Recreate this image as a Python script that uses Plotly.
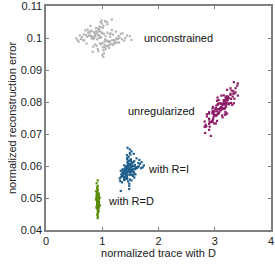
import plotly.graph_objects as go

# ---------------- data ----------------
unconstrained_x = [
    0.98, 1.12, 0.85, 1.04, 0.71, 1.23, 0.93, 1.01, 0.88, 1.15,
    1.07, 0.79, 0.96, 1.31, 0.62, 1.02, 0.90, 1.19, 0.83, 1.09,
    0.95, 1.26, 0.74, 1.05, 0.99, 0.87, 1.14, 0.68, 1.36, 0.92,
    1.03, 0.81, 1.21, 0.97, 1.10, 0.76, 1.00, 0.89, 1.28, 0.94,
    0.58, 1.17, 1.06, 0.84, 1.44, 0.91, 1.08, 0.73, 1.00, 1.24,
    0.86, 1.13, 0.95, 0.66, 1.33, 1.02, 0.78, 1.11, 0.97, 0.82,
    1.18, 0.93, 1.05, 0.70, 1.39, 0.88, 1.16, 1.01, 0.54, 1.22,
    0.96, 1.08, 0.80, 1.27, 0.99, 0.64, 1.12, 0.90, 1.04, 1.49,
    0.87, 1.20, 0.75, 1.03, 0.94, 1.30, 0.83, 1.09, 0.98, 0.60,
    1.14, 0.92, 1.25, 0.79, 1.06, 0.85, 1.35, 1.00, 0.72, 1.17,
    0.95, 1.10, 0.67, 1.02, 1.41, 0.89, 1.07, 0.77, 1.19, 0.99,
    0.84, 1.29, 0.93, 1.13, 0.56, 1.05, 0.97, 1.23, 0.81, 1.52,
]
unconstrained_y = [
    0.1003, 0.0987, 0.1018, 0.0979, 0.1010, 0.0994, 0.1029, 0.0971, 0.1006, 0.1014,
    0.0992, 0.1022, 0.0983, 0.1001, 0.0997, 0.1039, 0.0976, 0.1011, 0.0957, 0.1017,
    0.1007, 0.0986, 0.1027, 0.0996, 0.1046, 0.0980, 0.1004, 0.0993, 0.1015, 0.0966,
    0.1013, 0.0999, 0.0982, 0.1034, 0.0990, 0.1008, 0.0947, 0.1021, 0.0997, 0.1001,
    0.0989, 0.1025, 0.1006, 0.0973, 0.1008, 0.0996, 0.1050, 0.1004, 0.0985, 0.1020,
    0.1000, 0.0978, 0.1036, 0.0993, 0.1013, 0.0962, 0.1017, 0.0987, 0.1050, 0.1003,
    0.0994, 0.1010, 0.0972, 0.1024, 0.0992, 0.1015, 0.0982, 0.1032, 0.0999, 0.0986,
    0.1021, 0.0976, 0.1007, 0.0997, 0.1055, 0.1003, 0.0969, 0.1014, 0.0989, 0.1006,
    0.1011, 0.0993, 0.1018, 0.0952, 0.1028, 0.0986, 0.1001, 0.1043, 0.0980, 0.1008,
    0.0990, 0.1020, 0.0999, 0.1038, 0.0965, 0.1004, 0.0996, 0.1015, 0.0983, 0.1058,
    0.1024, 0.0975, 0.1011, 0.0941, 0.1000, 0.1031, 0.0992, 0.1007, 0.0979, 0.1017,
    0.0997, 0.1006, 0.0959, 0.1013, 0.0993, 0.1053, 0.1001, 0.0985, 0.1022, 0.0994,
]

unregularized_x = [
    3.16, 2.94, 3.21, 2.90, 3.34, 3.05, 3.20, 2.84, 3.12, 3.09,
    3.08, 3.03, 3.28, 3.17, 2.86, 3.21, 2.96, 3.32, 3.04, 3.08,
    3.10, 3.18, 2.90, 3.06, 3.11, 3.30, 3.02, 3.15, 2.96, 3.33,
    3.06, 2.97, 3.25, 3.02, 3.35, 2.90, 3.25, 3.03, 3.17, 2.91,
    3.04, 3.13, 3.37, 2.98, 3.13, 3.12, 2.85, 3.29, 3.07, 3.23,
    2.99, 3.12, 2.96, 3.41, 3.14, 2.86, 3.18, 3.15, 3.13, 3.01,
    3.16, 3.23, 2.96, 3.02, 3.29, 2.83, 3.09, 3.10, 3.33, 3.22,
    2.94, 3.19, 3.19, 3.08, 2.82, 3.22, 3.41, 2.95, 3.22, 3.01,
    3.00, 3.20, 3.05, 2.90, 3.11, 3.37, 2.96, 3.25, 2.90, 3.18,
    3.23, 2.97, 3.19, 3.04, 3.34, 3.05, 2.99, 3.16, 3.15, 2.97,
    3.21, 2.90, 3.35, 2.98, 3.23, 2.83, 3.18, 3.28, 3.05, 3.21,
    3.16, 2.91, 3.19, 3.11, 3.40, 2.82, 3.07, 3.31, 2.99, 3.28,
    2.93,
]
unregularized_y = [
    0.0806, 0.0738, 0.0818, 0.0768, 0.0796, 0.0792, 0.0785, 0.0729, 0.0784, 0.0778,
    0.0768, 0.0789, 0.0826, 0.0780, 0.0762, 0.0793, 0.0764, 0.0817, 0.0771, 0.0777,
    0.0776, 0.0780, 0.0732, 0.0794, 0.0795, 0.0836, 0.0733, 0.0792, 0.0769, 0.0834,
    0.0763, 0.0747, 0.0793, 0.0781, 0.0827, 0.0748, 0.0813, 0.0757, 0.0796, 0.0723,
    0.0804, 0.0758, 0.0843, 0.0753, 0.0782, 0.0795, 0.0724, 0.0797, 0.0765, 0.0807,
    0.0733, 0.0820, 0.0780, 0.0820, 0.0752, 0.0755, 0.0806, 0.0793, 0.0792, 0.0759,
    0.0799, 0.0817, 0.0741, 0.0759, 0.0810, 0.0703, 0.0779, 0.0780, 0.0826, 0.0805,
    0.0737, 0.0790, 0.0814, 0.0796, 0.0739, 0.0764, 0.0858, 0.0738, 0.0838, 0.0778,
    0.0771, 0.0798, 0.0814, 0.0713, 0.0784, 0.0830, 0.0739, 0.0796, 0.0745, 0.0798,
    0.0810, 0.0785, 0.0760, 0.0741, 0.0862, 0.0762, 0.0761, 0.0821, 0.0778, 0.0772,
    0.0813, 0.0764, 0.0810, 0.0767, 0.0815, 0.0723, 0.0761, 0.0843, 0.0778, 0.0798,
    0.0794, 0.0737, 0.0769, 0.0774, 0.0851, 0.0722, 0.0806, 0.0791, 0.0759, 0.0822,
    0.0694,
]

ri_x = [
    1.48, 1.42, 1.53, 1.39, 1.57, 1.45, 1.50, 1.35, 1.61, 1.47,
    1.44, 1.55, 1.40, 1.51, 1.37, 1.49, 1.58, 1.43, 1.66, 1.46,
    1.52, 1.38, 1.47, 1.60, 1.41, 1.54, 1.33, 1.49, 1.45, 1.70,
    1.43, 1.56, 1.48, 1.36, 1.51, 1.46, 1.63, 1.40, 1.53, 1.44,
    1.50, 1.31, 1.47, 1.59, 1.42, 1.55, 1.45, 1.38, 1.52, 1.74,
    1.46, 1.41, 1.57, 1.49, 1.34, 1.52, 1.44, 1.62, 1.48, 1.39,
    1.54, 1.45, 1.37, 1.50, 1.67, 1.43, 1.48, 1.56, 1.40, 1.51,
    1.47, 1.36, 1.58, 1.44, 1.52, 1.41, 1.49, 1.64, 1.46, 1.32,
    1.53, 1.45, 1.39, 1.60, 1.48, 1.43, 1.55, 1.50, 1.35, 1.47,
    1.42, 1.57, 1.46, 1.51, 1.38, 1.69, 1.44, 1.49, 1.54, 1.40,
    1.48, 1.33, 1.52, 1.45, 1.59, 1.43, 1.50, 1.37, 1.56, 1.46,
    1.41, 1.53, 1.47, 1.65, 1.44, 1.36, 1.51, 1.49, 1.72, 1.45,
    1.33,
]
ri_y = [
    0.0592, 0.0571, 0.0608, 0.0556, 0.0615, 0.0583, 0.0598, 0.0549, 0.0624, 0.0587,
    0.0563, 0.0611, 0.0578, 0.0595, 0.0568, 0.0641, 0.0603, 0.0580, 0.0619, 0.0552,
    0.0600, 0.0575, 0.0629, 0.0596, 0.0559, 0.0585, 0.0565, 0.0607, 0.0573, 0.0612,
    0.0594, 0.0581, 0.0545, 0.0589, 0.0621, 0.0601, 0.0597, 0.0566, 0.0588, 0.0634,
    0.0577, 0.0561, 0.0605, 0.0590, 0.0599, 0.0569, 0.0614, 0.0582, 0.0555, 0.0602,
    0.0586, 0.0593, 0.0576, 0.0652, 0.0574, 0.0613, 0.0560, 0.0594, 0.0581, 0.0602,
    0.0570, 0.0626, 0.0589, 0.0584, 0.0607, 0.0597, 0.0538, 0.0599, 0.0585, 0.0618,
    0.0604, 0.0579, 0.0591, 0.0567, 0.0646, 0.0588, 0.0572, 0.0609, 0.0595, 0.0553,
    0.0583, 0.0601, 0.0562, 0.0596, 0.0617, 0.0578, 0.0590, 0.0636, 0.0571, 0.0584,
    0.0598, 0.0564, 0.0606, 0.0587, 0.0580, 0.0593, 0.0622, 0.0558, 0.0600, 0.0576,
    0.0528, 0.0585, 0.0596, 0.0610, 0.0574, 0.0590, 0.0603, 0.0579, 0.0638, 0.0592,
    0.0586, 0.0573, 0.0616, 0.0599, 0.0581, 0.0568, 0.0605, 0.0589, 0.0596, 0.0657,
    0.0522,
]

rd_x = [
    0.92, 0.91, 0.93, 0.90, 0.94, 0.92, 0.91, 0.93, 0.89, 0.92,
    0.93, 0.92, 0.90, 0.94, 0.91, 0.92, 0.95, 0.91, 0.93, 0.92,
    0.91, 0.93, 0.92, 0.89, 0.92, 0.94, 0.91, 0.93, 0.92, 0.90,
    0.92, 0.91, 0.94, 0.92, 0.93, 0.90, 0.92, 0.91, 0.93, 0.96,
    0.92, 0.93, 0.91, 0.92, 0.90, 0.93, 0.92, 0.94, 0.91, 0.92,
    0.93, 0.91, 0.92, 0.95, 0.92, 0.91, 0.93, 0.92, 0.90, 0.92,
    0.91, 0.92, 0.93, 0.92, 0.94, 0.92, 0.91, 0.93, 0.92, 0.91,
    0.92, 0.94, 0.91, 0.93, 0.92, 0.90, 0.92, 0.93, 0.91, 0.92,
]
rd_y = [
    0.0491, 0.0478, 0.0503, 0.0469, 0.0512, 0.0486, 0.0497, 0.0459, 0.0521, 0.0483,
    0.0494, 0.0508, 0.0473, 0.0488, 0.0530, 0.0465, 0.0499, 0.0481, 0.0515, 0.0452,
    0.0489, 0.0506, 0.0476, 0.0495, 0.0538, 0.0484, 0.0501, 0.0462, 0.0492, 0.0511,
    0.0480, 0.0496, 0.0470, 0.0524, 0.0487, 0.0500, 0.0443, 0.0493, 0.0509, 0.0477,
    0.0498, 0.0468, 0.0517, 0.0485, 0.0546, 0.0490, 0.0474, 0.0504, 0.0482, 0.0555,
    0.0495, 0.0487, 0.0460, 0.0502, 0.0479, 0.0514, 0.0490, 0.0437, 0.0498, 0.0507,
    0.0485, 0.0527, 0.0471, 0.0493, 0.0481, 0.0510, 0.0496, 0.0456, 0.0488, 0.0533,
    0.0502, 0.0476, 0.0519, 0.0490, 0.0466, 0.0505, 0.0483, 0.0497, 0.0448, 0.0494,
]

series_names = ["unconstrained", "unregularized", "with R=I", "with R=D"]
series_colors = ["#b4b4b4", "#8c1a64", "#1f5f8c", "#5a8c0a"]
label_x = [1.71, 2.69, 1.78, 1.06]
label_y = [0.0999, 0.0772, 0.0591, 0.0491]
label_anchor = ["left", "right", "left", "left"]

x_ticks = [0, 1, 2, 3, 4]
y_ticks = [0.04, 0.05, 0.06, 0.07, 0.08, 0.09, 0.1, 0.11]
y_tick_text = ["0.04", "0.05", "0.06", "0.07", "0.08", "0.09", "0.1", "0.11"]

# ---------------- figure ----------------
xs = [unconstrained_x, unregularized_x, ri_x, rd_x]
ys = [unconstrained_y, unregularized_y, ri_y, rd_y]

fig = go.Figure()
for name, col, x, y in zip(series_names, series_colors, xs, ys):
    fig.add_trace(go.Scatter(
        x=x, y=y, mode="markers", name=name,
        marker=dict(color=col, size=2.2, symbol="square", line=dict(width=0)),
        showlegend=False, cliponaxis=True,
    ))

for name, lx, ly, anc in zip(series_names, label_x, label_y, label_anchor):
    fig.add_annotation(x=lx, y=ly, text=name, showarrow=False,
                       xanchor=anc, yanchor="middle",
                       font=dict(size=11, color="#111111"))

axis_common = dict(
    showline=True, linecolor="#808080", linewidth=1.5, mirror="ticks",
    ticks="inside", ticklen=3, tickcolor="#808080", tickwidth=1,
    showgrid=False, zeroline=False, automargin=False,
    ticklabeloverflow="allow",
    tickfont=dict(size=11, color="#222222"),
)

fig.update_xaxes(range=[0, 4.0001], tickvals=x_ticks,
                 title=dict(text="normalized trace with D", font=dict(size=11, color="#222222"), standoff=2),
                 **axis_common)
fig.update_yaxes(range=[0.04, 0.11001], tickvals=y_ticks, ticktext=y_tick_text,
                 title=dict(text="normalized reconstruction error", font=dict(size=11, color="#222222"), standoff=2),
                 **axis_common)

fig.update_layout(
    width=275, height=264,
    margin=dict(l=46, r=4, t=6, b=34),
    plot_bgcolor="white", paper_bgcolor="white",
    font=dict(family="Liberation Sans, Arial, sans-serif", size=11, color="#222222"),
)

fig.write_html(
    "out.html",
    config={"displayModeBar": False},
    post_script="document.body.style.margin='0';document.body.style.overflow='hidden';",
)
